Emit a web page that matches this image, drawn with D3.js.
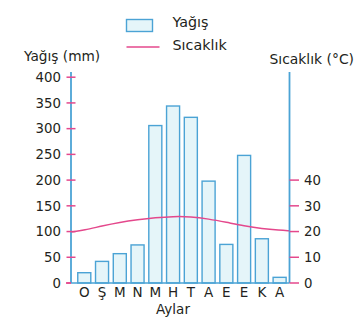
<!DOCTYPE html>
<html><head><meta charset="utf-8">
<script src="https://cdn.jsdelivr.net/npm/d3@7"></script>
<style>body{margin:0;background:#fff}text{font-family:"DejaVu Sans",sans-serif;fill:#231f20}</style>
</head><body><svg id="c" width="362" height="329"></svg>
<script>
const months = ["O","Ş","M","N","M","H","T","A","E","E","K","A"];
const precip = [20,42,57,74,306,344,322,198,75,248,86,11];
const temp = [20.5,22.2,23.6,24.6,25.4,25.9,25.8,24.9,23.6,22.2,21.1,20.5];
const tempEdges = [19.8,20.3];
const precipTicks = [0,50,100,150,200,250,300,350,400];
const tempTicks = [0,10,20,30,40];

const blue = "#4ba3d5", pink = "#e4488c", fill = "#e5f5f9";
const svg = d3.select("#c");
const x0 = 71, x1 = 289.5, yBase = 283, yTop = 72;
const x = d3.scaleBand().domain(d3.range(months.length)).range([75.4, 288.5]).paddingInner(0.21).paddingOuter(0.105);
const y = d3.scaleLinear().domain([0,400]).range([yBase, 77.2]);
const yT = d3.scaleLinear().domain([0,80]).range([yBase, 77.2]);

// bars
svg.selectAll("rect.bar").data(precip).join("rect").attr("class","bar")
  .attr("x",(d,i)=>x(i)+0.5).attr("width",x.bandwidth()-1)
  .attr("y",d=>y(d)).attr("height",d=>yBase-y(d))
  .attr("fill",fill).attr("stroke",blue).attr("stroke-width",1.4);

// temperature line
const pts = [[x0,tempEdges[0]]].concat(temp.map((t,i)=>[x(i)+x.bandwidth()/2,t])).concat([[x1,tempEdges[1]]]);
svg.append("path").datum(pts)
  .attr("d",d3.line().x(d=>d[0]).y(d=>yT(d[1])).curve(d3.curveBasis))
  .attr("fill","none").attr("stroke",pink).attr("stroke-width",1.5);

// axes lines
svg.append("line").attr("x1",x0).attr("x2",x0).attr("y1",yTop).attr("y2",yBase).attr("stroke",blue).attr("stroke-width",1.8);
svg.append("line").attr("x1",x1).attr("x2",x1).attr("y1",yTop).attr("y2",yBase).attr("stroke",blue).attr("stroke-width",1.8);
svg.append("line").attr("x1",x0).attr("x2",x1).attr("y1",yBase).attr("y2",yBase).attr("stroke",blue).attr("stroke-width",1.6);
svg.append("line").attr("x1",66).attr("x2",x0).attr("y1",yBase).attr("y2",yBase).attr("stroke",pink).attr("stroke-width",1.6);

// left ticks
const gl = svg.append("g");
precipTicks.forEach(t=>{
  gl.append("line").attr("x1",66.5).attr("x2",t===0?71:75.5).attr("y1",y(t)).attr("y2",y(t)).attr("stroke",pink).attr("stroke-width",1.5);
  gl.append("text").attr("x",61).attr("y",y(t)).attr("dy","0.36em").attr("text-anchor","end").attr("font-size",13.3).text(t);
});
// right ticks
const gr = svg.append("g");
tempTicks.forEach(t=>{
  gr.append("line").attr("x1",x1).attr("x2",299).attr("y1",yT(t)).attr("y2",yT(t)).attr("stroke",pink).attr("stroke-width",1.5);
  gr.append("text").attr("x",304).attr("y",yT(t)).attr("dy","0.36em").attr("text-anchor","start").attr("font-size",13.3).text(t);
});

// month labels
svg.selectAll("text.m").data(months).join("text").attr("class","m")
  .attr("x",(d,i)=>x(i)+x.bandwidth()/2).attr("y",297).attr("text-anchor","middle").attr("font-size",13.5).text(d=>d);
svg.append("text").attr("x",173).attr("y",313.5).attr("text-anchor","middle").attr("font-size",13.5).text("Aylar");

// axis titles
svg.append("text").attr("x",24).attr("y",61).attr("font-size",13.7).text("Yağış (mm)");
svg.append("text").attr("x",354).attr("y",64).attr("text-anchor","end").attr("font-size",13.9).text("Sıcaklık (°C)");

// legend
svg.append("rect").attr("x",126.5).attr("y",19.5).attr("width",26).attr("height",12).attr("fill",fill).attr("stroke",blue).attr("stroke-width",1.4);
svg.append("text").attr("x",172.5).attr("y",26.5).attr("font-size",14.3).text("Yağış");
svg.append("line").attr("x1",126.5).attr("x2",159.5).attr("y1",47).attr("y2",47).attr("stroke",pink).attr("stroke-width",1.5);
svg.append("text").attr("x",172.5).attr("y",50).attr("font-size",14.3).text("Sıcaklık");
</script></body></html>
